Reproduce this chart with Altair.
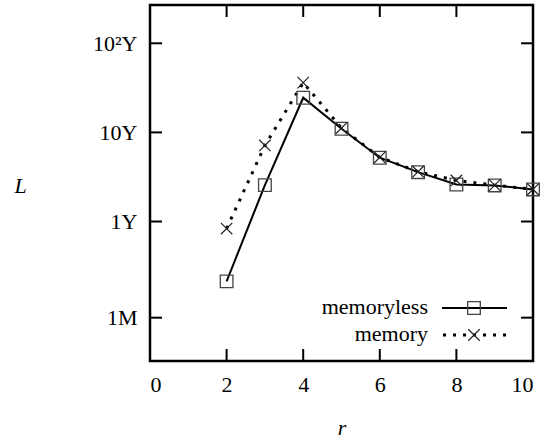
import altair as alt
import pandas as pd

# r values and expected lifetime L (in years) for the two strategies
r_values = [2, 3, 4, 5, 6, 7, 8, 9, 10]
memoryless_years = [0.213, 2.56, 24.5, 11.0, 5.2, 3.58, 2.60, 2.54, 2.29]
memory_years = [0.834, 7.14, 36.2, 11.2, 5.25, 3.62, 2.89, 2.56, 2.30]

x_ticks = [0, 2, 4, 6, 8, 10]
y_ticks = [1 / 12, 1, 10, 100]
y_tick_labels = ["1M", "1Y", "10Y", "10²Y"]

FONT = "Liberation Serif"
FS = 22
W, H = 383, 356

df = pd.concat([
    pd.DataFrame({"r": r_values, "L": memoryless_years, "series": "memoryless"}),
    pd.DataFrame({"r": r_values, "L": memory_years, "series": "memory"}),
])
xt = pd.DataFrame({"t": x_ticks[1:-1]})
yt = pd.DataFrame({"t": y_ticks})

label_expr = " : ".join(
    f"datum.value < {th} ? '{lab}'" for th, lab in zip([0.5, 5, 50], y_tick_labels[:3])
) + f" : '{y_tick_labels[3]}'"

x_scale = alt.Scale(domain=[0, 10], nice=False, zero=False)
y_scale = alt.Scale(type="log", domain=[0.0272, 269], nice=False)

x_enc = alt.X("r:Q", scale=x_scale, axis=alt.Axis(
    values=x_ticks, ticks=False, domain=False, grid=False,
    labelFont=FONT, labelFontSize=FS, labelColor="black", labelPadding=13,
    title="r", titleFont=FONT, titleFontSize=FS, titleFontStyle="italic",
    titleFontWeight="normal", titleColor="black", titleY=56,
))
y_enc = alt.Y("L:Q", scale=y_scale, axis=alt.Axis(
    values=y_ticks, labelExpr=label_expr, ticks=False, domain=False, grid=False,
    labelFont=FONT, labelFontSize=FS, labelColor="black", labelPadding=13,
    title="L", titleFont=FONT, titleFontSize=FS, titleFontStyle="italic",
    titleFontWeight="normal", titleColor="black", titleAngle=0,
    titleX=-130, titleY=180, titleAlign="center", titleBaseline="middle",
))

base = alt.Chart(df).encode(x=x_enc, y=y_enc)

line_ml = base.transform_filter(alt.datum.series == "memoryless").mark_line(
    color="black", strokeWidth=2)
line_m = base.transform_filter(alt.datum.series == "memory").mark_line(
    color="black", strokeWidth=3, strokeDash=[3, 7], strokeCap="butt")
pts_ml = base.transform_filter(alt.datum.series == "memoryless").mark_point(
    shape="square", size=160, filled=False, color="#444", strokeWidth=1.3, opacity=1)
pts_m = base.transform_filter(alt.datum.series == "memory").mark_point(
    shape="M-1,-1L1,1M1,-1L-1,1", size=130, filled=False, color="#222",
    strokeWidth=1.2, opacity=1)

# inward tick marks on all four sides
TL = 12
ticks_y_left = alt.Chart(yt).mark_rule(color="black", strokeWidth=2).encode(
    y=alt.Y("t:Q", scale=y_scale), x=alt.value(0), x2=alt.value(TL))
ticks_y_right = alt.Chart(yt).mark_rule(color="black", strokeWidth=2).encode(
    y=alt.Y("t:Q", scale=y_scale), x=alt.value(W - TL), x2=alt.value(W))
ticks_x_bottom = alt.Chart(xt).mark_rule(color="black", strokeWidth=2).encode(
    x=alt.X("t:Q", scale=x_scale), y=alt.value(H - TL), y2=alt.value(H))
ticks_x_top = alt.Chart(xt).mark_rule(color="black", strokeWidth=2).encode(
    x=alt.X("t:Q", scale=x_scale), y=alt.value(0), y2=alt.value(TL))

# key in the lower right corner
ROW1, ROW2 = 303, 330
key_df = pd.DataFrame({"k": [0]})
kb = alt.Chart(key_df)
key_text1 = kb.mark_text(font=FONT, fontSize=FS, align="right", baseline="middle",
                         color="black").encode(
    x=alt.value(278), y=alt.value(ROW1 - 1), text=alt.value("memoryless"))
key_text2 = kb.mark_text(font=FONT, fontSize=FS, align="right", baseline="middle",
                         color="black").encode(
    x=alt.value(278), y=alt.value(ROW2 - 1), text=alt.value("memory"))
key_line1 = kb.mark_rule(color="black", strokeWidth=2).encode(
    x=alt.value(292), x2=alt.value(357), y=alt.value(ROW1))
key_line2 = kb.mark_rule(color="black", strokeWidth=3, strokeDash=[3, 7],
                         strokeCap="butt").encode(
    x=alt.value(293), x2=alt.value(362), y=alt.value(ROW2))
key_pt1 = kb.mark_point(shape="square", size=160, filled=False, color="#444",
                        strokeWidth=1.3, opacity=1).encode(
    x=alt.value(324), y=alt.value(ROW1))
key_pt2 = kb.mark_point(shape="M-1,-1L1,1M1,-1L-1,1", size=130, filled=False,
                        color="#222", strokeWidth=1.2, opacity=1).encode(
    x=alt.value(324), y=alt.value(ROW2))

chart = alt.layer(
    line_ml, line_m, pts_ml, pts_m,
    ticks_y_left, ticks_y_right, ticks_x_bottom, ticks_x_top,
    key_line1, key_line2, key_pt1, key_pt2, key_text1, key_text2,
).properties(
    width=W, height=H,
    autosize=alt.AutoSizeParams(type="none"),
    padding={"left": 150, "top": 5, "right": 22, "bottom": 82},
    background="white",
).configure_view(
    stroke="black", strokeWidth=2.5,
)

chart.save("out.html", embed_options={"renderer": "svg", "actions": False})
